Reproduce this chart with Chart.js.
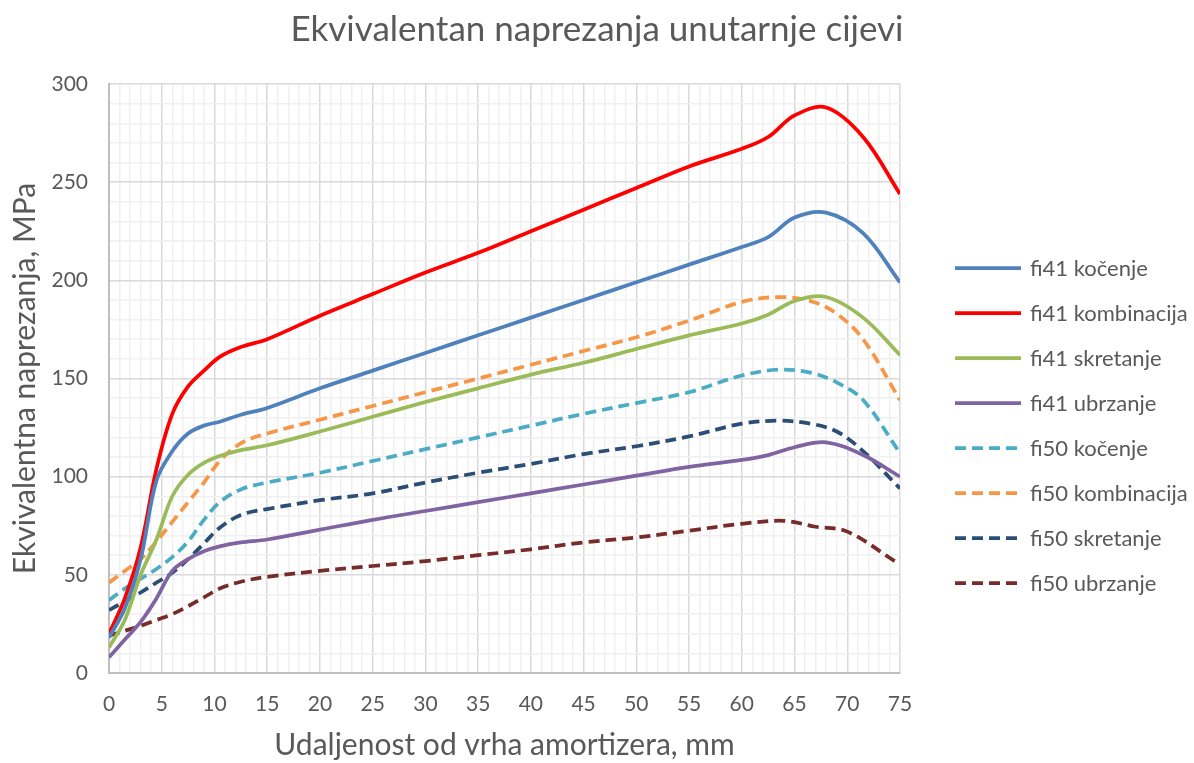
<!DOCTYPE html>
<html>
<head>
<meta charset="utf-8">
<script src="https://cdn.jsdelivr.net/npm/chart.js@4.4.0/dist/chart.umd.min.js"></script>
<style>
  html, body { margin: 0; padding: 0; background: #fff; }
</style>
</head>
<body>
<canvas id="canvas" width="1194" height="763"></canvas>
<script>
// udaljenost od vrha (mm)
var xFi41 = [0, 1.5, 3, 4.5, 6, 7.5, 9, 10.5, 12.5, 15, 20, 25, 30, 35, 40, 45, 50, 55, 60, 62.5, 65, 68, 71.5, 75];
var xFi50 = [0, 1.5, 3, 4.5, 6, 7.5, 9, 10.5, 12.5, 15, 20, 25, 30, 35, 40, 45, 50, 55, 60, 63.5, 66.5, 69, 71.5, 75];
var xFi50Ubrzanje = [0, 1.5, 3, 4.5, 6, 7.5, 9, 10.5, 12.5, 15, 20, 25, 30, 35, 40, 45, 50, 55, 60, 64, 67, 70, 74.5];

// naprezanja (MPa)
var fi41Kocenje     = [18, 33, 58, 98, 113, 122, 126, 128, 131.5, 135, 145, 154, 163, 172, 181, 190, 199, 208, 217, 222, 232, 234.5, 224, 199];
var fi41Kombinacija = [20, 38, 64, 104, 132, 146, 154, 161, 166, 170, 182, 193, 204, 214, 225, 236, 247, 258, 267, 273, 284, 288, 273, 244];
var fi41Skretanje   = [13, 27, 50, 68, 90, 101, 107, 110.5, 113.5, 116, 123, 130.5, 138, 145, 152, 158, 165, 172, 178, 182.5, 189.5, 191.5, 181, 162];
var fi41Ubrzanje    = [8, 17, 26, 38, 52, 58, 62, 64.5, 66.5, 68, 73, 78, 82.5, 87, 91.5, 96, 100.5, 105, 108.5, 111, 115, 117.5, 111, 100];
var fi50Kocenje     = [37, 43, 48, 53, 59, 67, 78, 87, 93.5, 97, 102, 108, 114, 120, 126, 132, 137.5, 143, 151.5, 154.5, 153, 148, 139, 112];
var fi50Kombinacija = [46, 52, 58, 67, 77, 87, 97, 108, 117, 122, 129, 136, 143, 150, 157, 164, 171, 179.5, 189, 191.5, 189.5, 183, 170, 139];
var fi50Skretanje   = [32, 36.5, 41, 46, 51, 58, 66, 74, 80.5, 83.5, 88, 91.5, 97, 102, 106.5, 111.5, 115.5, 120.5, 127, 128.5, 127, 123, 113, 94];
var fi50Ubrzanje    = [19, 21.5, 24, 27, 30, 34, 38.5, 43, 46.5, 49, 52, 54.5, 57, 60, 63, 66.5, 69, 72.5, 76, 77.5, 74.5, 72, 57];

var textColor = '#595959';
var fontFamily = 'Lato, "Noto Sans", sans-serif';

function points(xs, ys) {
  return xs.map(function(x, i) { return {x: x, y: ys[i]}; });
}

function series(label, xs, ys, color, dashed) {
  return {
    label: label,
    data: points(xs, ys),
    borderColor: color,
    backgroundColor: color,
    borderWidth: 3.75,
    borderDash: dashed ? [11, 6] : [],
    pointRadius: 0,
    tension: 0.35,
    fill: false
  };
}

// legenda desno od grafa, crtana rucno
var sideLegend = {
  id: 'sideLegend',
  afterDraw: function(chart) {
    var ctx = chart.ctx;
    ctx.save();
    ctx.font = '22px ' + fontFamily;
    ctx.textBaseline = 'middle';
    ctx.fillStyle = textColor;
    chart.data.datasets.forEach(function(ds, i) {
      var y = 268 + i * 45;
      ctx.beginPath();
      ctx.strokeStyle = ds.borderColor;
      ctx.lineWidth = ds.borderWidth;
      ctx.setLineDash(ds.borderDash);
      ctx.moveTo(955, y);
      ctx.lineTo(1021, y);
      ctx.stroke();
      ctx.fillText(ds.label, 1030, y + 1);
    });
    ctx.restore();
  }
};

var chart = new Chart(document.getElementById('canvas').getContext('2d'), {
  type: 'line',
  data: {
    datasets: [
      series('fi41 kočenje', xFi41, fi41Kocenje, '#4F81BD', false),
      series('fi41 kombinacija', xFi41, fi41Kombinacija, '#FF0000', false),
      series('fi41 skretanje', xFi41, fi41Skretanje, '#9BBB59', false),
      series('fi41 ubrzanje', xFi41, fi41Ubrzanje, '#8064A2', false),
      series('fi50 kočenje', xFi50, fi50Kocenje, '#4BACC6', true),
      series('fi50 kombinacija', xFi50, fi50Kombinacija, '#F79646', true),
      series('fi50 skretanje', xFi50, fi50Skretanje, '#2C4D75', true),
      series('fi50 ubrzanje', xFi50Ubrzanje, fi50Ubrzanje, '#772C2A', true)
    ]
  },
  options: {
    responsive: false,
    animation: false,
    plugins: {
      legend: { display: false },
      tooltip: { enabled: false },
      title: {
        display: true,
        text: 'Ekvivalentan naprezanja unutarnje cijevi',
        color: textColor,
        font: { family: fontFamily, size: 35, weight: 'normal' },
        padding: { top: 9, bottom: 33 }
      }
    },
    scales: {
      x: {
        type: 'linear',
        min: 0,
        max: 75,
        afterFit: function(scale) { scale.height = 90; },
        border: { color: '#bfbfbf', width: 2 },
        grid: {
          drawTicks: false,
          lineWidth: 1.5,
          color: function(c) { return c.tick && c.tick.value % 5 === 0 ? '#d9d9d9' : '#f0f0f0'; }
        },
        ticks: {
          stepSize: 1,
          autoSkip: false,
          maxRotation: 0,
          padding: 19,
          color: textColor,
          font: { family: fontFamily, size: 21 },
          callback: function(v) { return v % 5 === 0 ? v : ''; }
        },
        title: {
          display: true,
          text: 'Udaljenost od vrha amortizera, mm',
          color: textColor,
          font: { family: fontFamily, size: 30 },
          padding: { top: 0, bottom: 0 }
        }
      },
      y: {
        min: 0,
        max: 300,
        afterFit: function(scale) { scale.width = 109; },
        border: { color: '#bfbfbf', width: 2 },
        grid: {
          drawTicks: false,
          lineWidth: 1.5,
          color: function(c) { return c.tick && c.tick.value % 50 === 0 ? '#d9d9d9' : '#f0f0f0'; }
        },
        ticks: {
          stepSize: 10,
          autoSkip: false,
          padding: 21,
          color: textColor,
          font: { family: fontFamily, size: 21 },
          callback: function(v) { return v % 50 === 0 ? v : ''; }
        },
        title: {
          display: true,
          text: 'Ekvivalentna naprezanja, MPa',
          color: textColor,
          font: { family: fontFamily, size: 30 },
          padding: { top: 7, bottom: 0 }
        }
      },
      // prazna os desno, ostavlja mjesto za legendu
      legendSpace: {
        type: 'linear',
        position: 'right',
        min: 0,
        max: 300,
        afterFit: function(scale) { scale.width = 294; },
        grid: { display: false, drawOnChartArea: false },
        border: { display: false },
        ticks: { display: false }
      }
    }
  },
  plugins: [sideLegend]
});
</script>
</body>
</html>
